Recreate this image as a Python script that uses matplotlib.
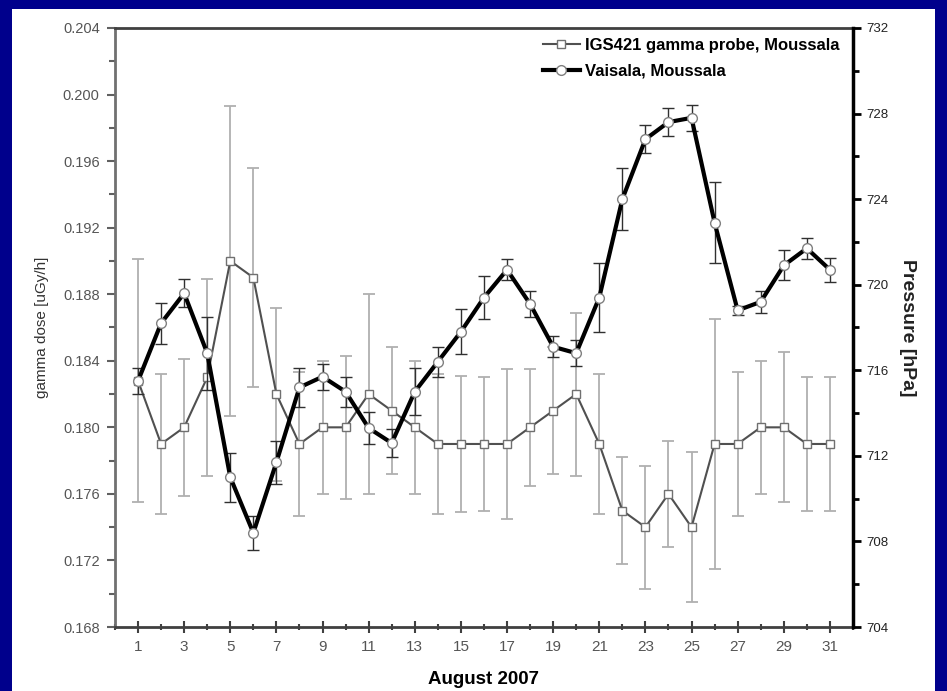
import numpy as np
import matplotlib
matplotlib.use('Agg')
import matplotlib.pyplot as plt
from matplotlib.patches import Rectangle
from matplotlib.ticker import MultipleLocator

plt.rcParams['font.family'] = ['Liberation Sans', 'DejaVu Sans']

# daily means, August 2007
days = np.arange(1, 32)
gamma = [0.1828, 0.1790, 0.1800, 0.1830, 0.1900, 0.1890, 0.1820, 0.1790, 0.1800, 0.1800,
         0.1820, 0.1810, 0.1800, 0.1790, 0.1790, 0.1790, 0.1790, 0.1800, 0.1810, 0.1820,
         0.1790, 0.1750, 0.1740, 0.1760, 0.1740, 0.1790, 0.1790, 0.1800, 0.1800, 0.1790,
         0.1790]
gamma_err = [0.0073, 0.0042, 0.0041, 0.0059, 0.0093, 0.0066, 0.0052, 0.0043, 0.0040, 0.0043,
             0.0060, 0.0038, 0.0040, 0.0042, 0.0041, 0.0040, 0.0045, 0.0035, 0.0038, 0.0049,
             0.0042, 0.0032, 0.0037, 0.0032, 0.0045, 0.0075, 0.0043, 0.0040, 0.0045, 0.0040,
             0.0040]
pressure = [715.5, 718.2, 719.6, 716.8, 711.0, 708.4, 711.7, 715.2, 715.7, 715.0,
            713.3, 712.6, 715.0, 716.4, 717.8, 719.4, 720.7, 719.1, 717.1, 716.8,
            719.4, 724.0, 726.8, 727.6, 727.8, 722.9, 718.8, 719.2, 720.9, 721.7,
            720.7]
pressure_err = [0.6, 0.95, 0.65, 1.7, 1.15, 0.8, 1.0, 0.9, 0.6, 0.7,
                0.75, 0.65, 1.1, 0.7, 1.05, 1.0, 0.5, 0.6, 0.5, 0.6,
                1.6, 1.45, 0.65, 0.65, 0.6, 1.9, 0.2, 0.5, 0.7, 0.5,
                0.55]

fig = plt.figure(figsize=(9.47, 6.91), dpi=100)
fig.patch.set_facecolor('#00008c')
# white slide panel behind the plot
panel = Rectangle((0.0127, 0.0), 0.9747, 0.987, transform=fig.transFigure,
                  facecolor='white', edgecolor='none', zorder=-10)
fig.patches.append(panel)

ax1 = fig.add_axes([0.1214, 0.0926, 0.7793, 0.8669])
ax1.set_facecolor('none')
ax2 = ax1.twinx()
ax2.set_facecolor('none')

# gamma dose - left axis
ax1.errorbar(days, gamma, yerr=gamma_err, fmt='none', ecolor='#b0b0b0', elinewidth=1.3,
             capsize=4, capthick=1.3, zorder=2)
l1, = ax1.plot(days, gamma, '-', color='#505050', lw=1.5, marker='s', ms=6,
               mfc='white', mec='#707070', mew=1.0, zorder=3,
               label='IGS421 gamma probe, Moussala')

# pressure - right axis
ax2.errorbar(days, pressure, yerr=pressure_err, fmt='none', ecolor='#303030', elinewidth=1.0,
             capsize=4, capthick=1.0, zorder=2)
l2, = ax2.plot(days, pressure, '-', color='black', lw=3, marker='o', ms=7,
               mfc='white', mec='#808080', mew=1.0, zorder=3,
               label='Vaisala, Moussala')

ax1.set_xlim(0, 32)
ax1.set_ylim(0.168, 0.204)
ax2.set_ylim(704, 732)

ax1.set_xticks(np.arange(1, 32, 2))
ax1.xaxis.set_minor_locator(MultipleLocator(1))
ax1.yaxis.set_major_locator(MultipleLocator(0.004))
ax1.yaxis.set_minor_locator(MultipleLocator(0.002))
ax1.yaxis.set_major_formatter(matplotlib.ticker.FormatStrFormatter('%.3f'))
ax2.yaxis.set_major_locator(MultipleLocator(4))
ax2.yaxis.set_minor_locator(MultipleLocator(2))

ax1.tick_params(axis='y', which='major', direction='out', length=6, width=1.5,
                color='#606060', labelcolor='#555555', labelsize=10.5, pad=5)
ax1.tick_params(axis='y', which='minor', direction='out', length=4, width=1.5, color='#606060')
ax1.tick_params(axis='x', which='major', direction='inout', length=9, width=1.5,
                color='#404040', labelcolor='#555555', labelsize=11, pad=5)
ax1.tick_params(axis='x', which='minor', direction='inout', length=5, width=1.5, color='#404040')
ax2.tick_params(axis='y', which='major', direction='out', length=6, width=2,
                color='black', labelcolor='#222222', labelsize=9.5)
ax2.tick_params(axis='y', which='minor', direction='out', length=4, width=2, color='black')

for side in ['top', 'bottom']:
    ax1.spines[side].set_color('#404040')
    ax1.spines[side].set_linewidth(2)
ax1.spines['left'].set_color('#707070')
ax1.spines['left'].set_linewidth(2)
ax2.spines['right'].set_color('black')
ax2.spines['right'].set_linewidth(2.5)
ax2.spines['left'].set_visible(False)
ax2.spines['top'].set_visible(False)
ax2.spines['bottom'].set_visible(False)

ax1.set_xlabel('August 2007', fontsize=13.5, fontweight='bold', labelpad=12)
ax1.set_ylabel('gamma dose [uGy/h]', fontsize=11, color='#333333', labelpad=10)
ax2.set_ylabel('Pressure [hPa]', fontsize=14, fontweight='bold', rotation=270,
               labelpad=20, color='#222222')

ax2.legend(handles=[l1, l2], loc='upper right', bbox_to_anchor=(0.995, 1.0), frameon=False,
           prop={'weight': 'bold', 'size': 12}, handlelength=2.2, handletextpad=0.3,
           labelspacing=0.65, borderaxespad=0.2)

fig.savefig('out.png', dpi=100, facecolor=fig.get_facecolor())
